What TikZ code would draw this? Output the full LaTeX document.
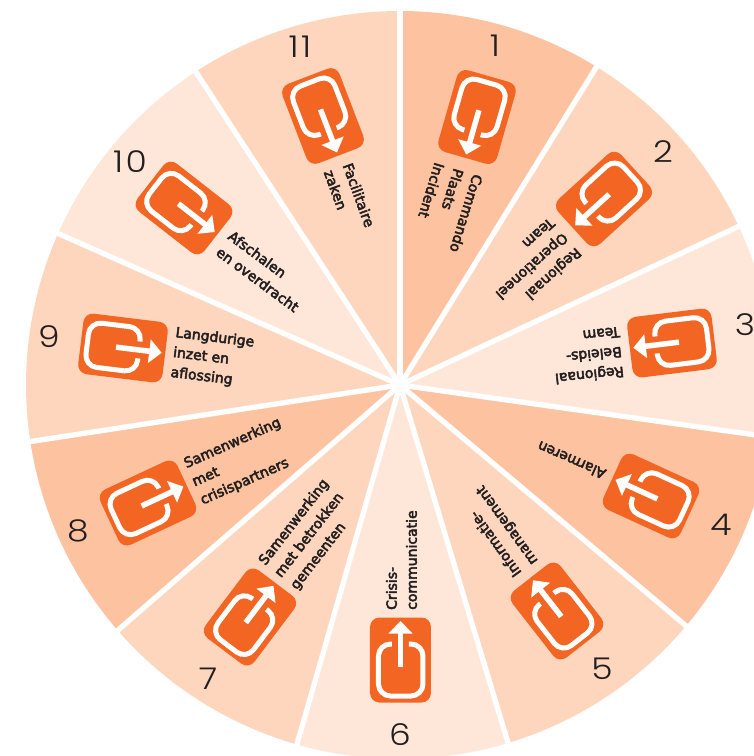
\documentclass[tikz,border=0pt]{standalone}
\usepackage{fontspec}
\setmainfont{DejaVu Sans}
\newfontfamily\lblfont[FakeBold=3.5]{DejaVu Sans}
\newfontfamily\numfont[UprightFont=* Light,FakeStretch=1.15,LetterSpace=8]{Poppins}
\definecolor{orangeicon}{HTML}{F26522}
\definecolor{toneA}{HTML}{FDC3A0}
\definecolor{toneB}{HTML}{FDD6BD}
\definecolor{toneC}{HTML}{FEE7D9}
\definecolor{inkdark}{HTML}{231F20}
\tikzset{
  wedge/.style={draw=none},
  spoke/.style={draw=white,line width=5.3pt},
  iconbg/.style={fill=orangeicon,draw=none},
  iconline/.style={draw=white,line width=5pt,rounded corners=12pt},
  iconshaft/.style={draw=white,line width=5.5pt},
  iconhead/.style={fill=white,draw=none},
  lbl/.style={inner sep=0pt,align=left,text=inkdark,font=\lblfont\fontsize{14}{20}\selectfont},
  num/.style={inner sep=0pt,text=inkdark,font=\numfont\fontsize{30}{30}\selectfont}
}
\begin{document}
\begin{tikzpicture}[x=1pt,y=1pt]
\useasboundingbox (-400,-371) rectangle (354,385);
\clip (-400,-371) rectangle (354,385);
\coordinate (hub) at (0,0);
\foreach \k/\col/\bA/\bB in {1/toneA/0/31.7,2/toneB/31.7/64.9,3/toneC/64.9/98,4/toneA/98/130.1,5/toneB/130.1/163.2,6/toneC/163.2/196,7/toneB/196/229,8/toneA/229/261.3,9/toneB/261.3/293.9,10/toneC/293.9/326.9,11/toneB/326.9/360}{
  \pgfmathsetmacro{\aS}{90-\bA}
  \pgfmathsetmacro{\aE}{90-\bB}
  \fill[wedge,\col] (hub) -- (\aS:374) arc[start angle=\aS,end angle=\aE,radius=374] -- cycle;
}
\foreach \k/\b in {1/31.7,2/64.9,3/98,4/130.1,5/163.2,6/196,7/229,8/261.3,9/293.9,10/326.9,11/360}{
  \coordinate (rim\k) at ({90-\b}:380);
  \draw[spoke] (hub) -- (rim\k);
}
\foreach \k/\ix/\iy/\ith/\tx/\ty/\tth/\txt in {
 1/477/117/16/459/169/17/{Commando\\Plaats\\Incident},
 2/604/199/47.6/566/236/48/{Regionaal\\Operationeel\\Team},
 3/672/343/83/622/352/84/{Regionaal\\Beleids-\\Team},
 4/651/496/114.6/605/475/113.7/{Alarmeren},
 5/557/611/142/527/569/144/{Informatie-\\management},
 6/400.5/660/180/401.5/610/180/{Crisis-\\communicatie},
 7/250/617/217/278/576/217.8/{Samenwerking\\met betrokken\\gemeenten},
 8/148/503/245/193/483/246/{Samenwerking\\met\\crisispartners},
 9/123/348/277/173/353/277/{Langdurige\\inzet en\\aflossing},
 10/184/208/308/224/242/306.5/{Afschalen\\en overdracht},
 11/323/116/339/338/167/340/{Facilitaire\\zaken}}{
  \pgfmathsetmacro{\rot}{180-\ith}
  \pgfmathsetmacro{\trot}{270-\tth}
  \begin{scope}[shift={(\ix-400,385-\iy)},rotate=\rot]
      \fill[iconbg,rounded corners=9.5pt] (-30.5,-42.5) rectangle (30.5,42.5);
      \draw[iconline] (-8.5,16) -- (-22,16) -- (-22,-36) -- (22.5,-36) -- (22.5,16) -- (8.5,16);
      \draw[iconshaft] (0,-7) -- (0,28);
      \fill[iconhead] (-12,26.5) -- (12,26.5) -- (0,39) -- cycle;
  \end{scope}
  \node[lbl,rotate=\trot,anchor=west] (label\k) at (\tx-400,385-\ty) {\txt};
}
\foreach \k/\x/\y in {1/495/46,2/663/152,3/745/325,4/721/525,5/602/669,6/400/735,7/208/679,8/78/531,9/49/337,10/130/162,11/300/47}{
  \node[num] (num\k) at (\x-400,385-\y) {\k};
}
\end{tikzpicture}
\end{document}
